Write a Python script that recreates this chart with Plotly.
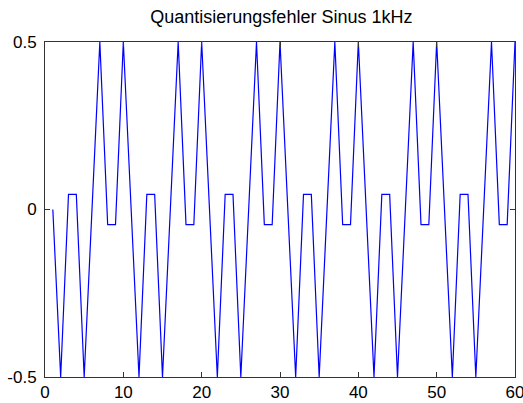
import plotly.graph_objects as go

# sample index (1..60) and quantisation error
x_samples = list(range(1, 61))
err_values = [
    0, -0.5, 0.045, 0.045, -0.5, 0, 0.5, -0.045, -0.045, 0.5,
    0, -0.5, 0.045, 0.045, -0.5, 0, 0.5, -0.045, -0.045, 0.5,
    0, -0.5, 0.045, 0.045, -0.5, 0, 0.5, -0.045, -0.045, 0.5,
    0, -0.5, 0.045, 0.045, -0.5, 0, 0.5, -0.045, -0.045, 0.5,
    0, -0.5, 0.045, 0.045, -0.5, 0, 0.5, -0.045, -0.045, 0.5,
    0, -0.5, 0.045, 0.045, -0.5, 0, 0.5, -0.045, -0.045, 0.5,
]
x_ticks = [0, 10, 20, 30, 40, 50, 60]
x_tick_labels = ["0", "10", "20", "30", "40", "50", "60"]
y_ticks = [-0.5, 0, 0.5]
y_tick_labels = ["-0.5", "0", "0.5"]
title_text = "Quantisierungsfehler Sinus 1kHz"

fig = go.Figure()
fig.add_trace(go.Scatter(
    x=x_samples, y=err_values, mode="lines",
    line=dict(color="#0000ff", width=1.2),
    showlegend=False, hoverinfo="skip",
))

axis_common = dict(
    showline=True, linecolor="#333333", linewidth=1, mirror="ticks",
    ticks="inside", ticklen=5, tickcolor="#333333", tickwidth=1,
    showgrid=False, zeroline=False, automargin=False,
    ticklabeloverflow="allow",
    tickfont=dict(family="Liberation Sans, Arial, sans-serif", size=17, color="#000000"),
)

fig.update_layout(
    width=523, height=403,
    margin=dict(l=45, r=8, t=42, b=26, autoexpand=False),
    paper_bgcolor="white", plot_bgcolor="white",
    title=dict(
        text=title_text, x=0.538, xanchor="center",
        y=1 - 17 / 403, yanchor="middle", yref="container",
        font=dict(family="Liberation Sans, Arial, sans-serif", size=18, color="#000000"),
    ),
    xaxis=dict(range=[0, 60], tickvals=x_ticks, ticktext=x_tick_labels, **axis_common),
    yaxis=dict(range=[-0.5, 0.5], tickvals=y_ticks, ticktext=y_tick_labels,
               ticklabelstandoff=4, **axis_common),
)

fig.write_html(
    "out.html",
    config={"displayModeBar": False},
    post_script="document.body.style.margin='0';document.body.style.padding='0';",
)
